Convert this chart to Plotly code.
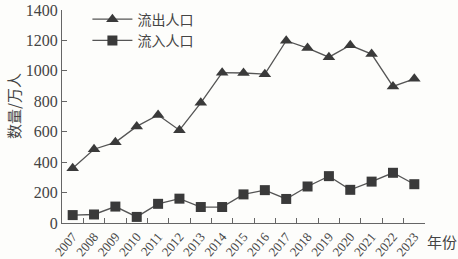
import plotly.graph_objects as go

years = [str(y) for y in range(2007, 2024)]
outflow = [360, 485, 530, 635, 710, 610, 790, 988, 986, 978, 1198, 1150, 1090, 1168, 1110, 898, 948]
inflow = [52, 56, 108, 40, 126, 160, 105, 105, 188, 216, 158, 240, 308, 218, 272, 330, 255]

serif = "Liberation Serif"
cjk = "Noto Sans CJK SC"
ink = "#444444"

fig = go.Figure()
fig.add_trace(go.Scatter(
    x=years, y=outflow, name="流出人口", mode="lines+markers",
    line=dict(color="#555555", width=1.3),
    marker=dict(symbol="triangle-up", size=11, color="#3a3a3a"),
))
fig.add_trace(go.Scatter(
    x=years, y=inflow, name="流入人口", mode="lines+markers",
    line=dict(color="#555555", width=1.3),
    marker=dict(symbol="square", size=10, color="#3a3a3a"),
))

fig.update_layout(
    width=458, height=259,
    margin=dict(l=62, r=33, t=10, b=36, autoexpand=False),
    paper_bgcolor="#fdfdfb", plot_bgcolor="#fdfdfb",
    showlegend=True,
    legend=dict(x=0.07, y=1.03, xanchor="left", yanchor="top",
                bgcolor="rgba(0,0,0,0)",
                font=dict(family=cjk, size=14, color=ink),
                itemwidth=40, tracegroupgap=0),
    xaxis=dict(
        type="category", range=[-0.5, 16.5], tickson="boundaries",
        ticks="inside", ticklen=5, tickcolor="#666", showline=True,
        linecolor="#666", linewidth=1, showgrid=False, zeroline=False,
        automargin=False,
        tickangle=-50, tickfont=dict(family=serif, size=13, color=ink),
    ),
    yaxis=dict(
        range=[0, 1400], tickmode="array",
        tickvals=[0, 200, 400, 600, 800, 1000, 1200, 1400],
        ticktext=["0", "200", "400", "600", "800", "1000", "1200", "1400"],
        ticks="inside", ticklen=5, tickcolor="#666", automargin=False,
        showline=True, linecolor="#666", linewidth=1, showgrid=False,
        zeroline=False, tickfont=dict(family=serif, size=16, color=ink),
    ),
    annotations=[
        dict(text="数量/万人", xref="paper", yref="paper", x=-0.132, y=0.55,
             xanchor="center", yanchor="middle",
             textangle=-90, showarrow=False, font=dict(family=cjk, size=15, color=ink)),
        dict(text="年份", xref="paper", yref="paper", x=1.0, y=-0.085,
             xanchor="left", yanchor="middle", showarrow=False,
             font=dict(family=cjk, size=15, color=ink)),
    ],
)

fig.write_html("out.html")
